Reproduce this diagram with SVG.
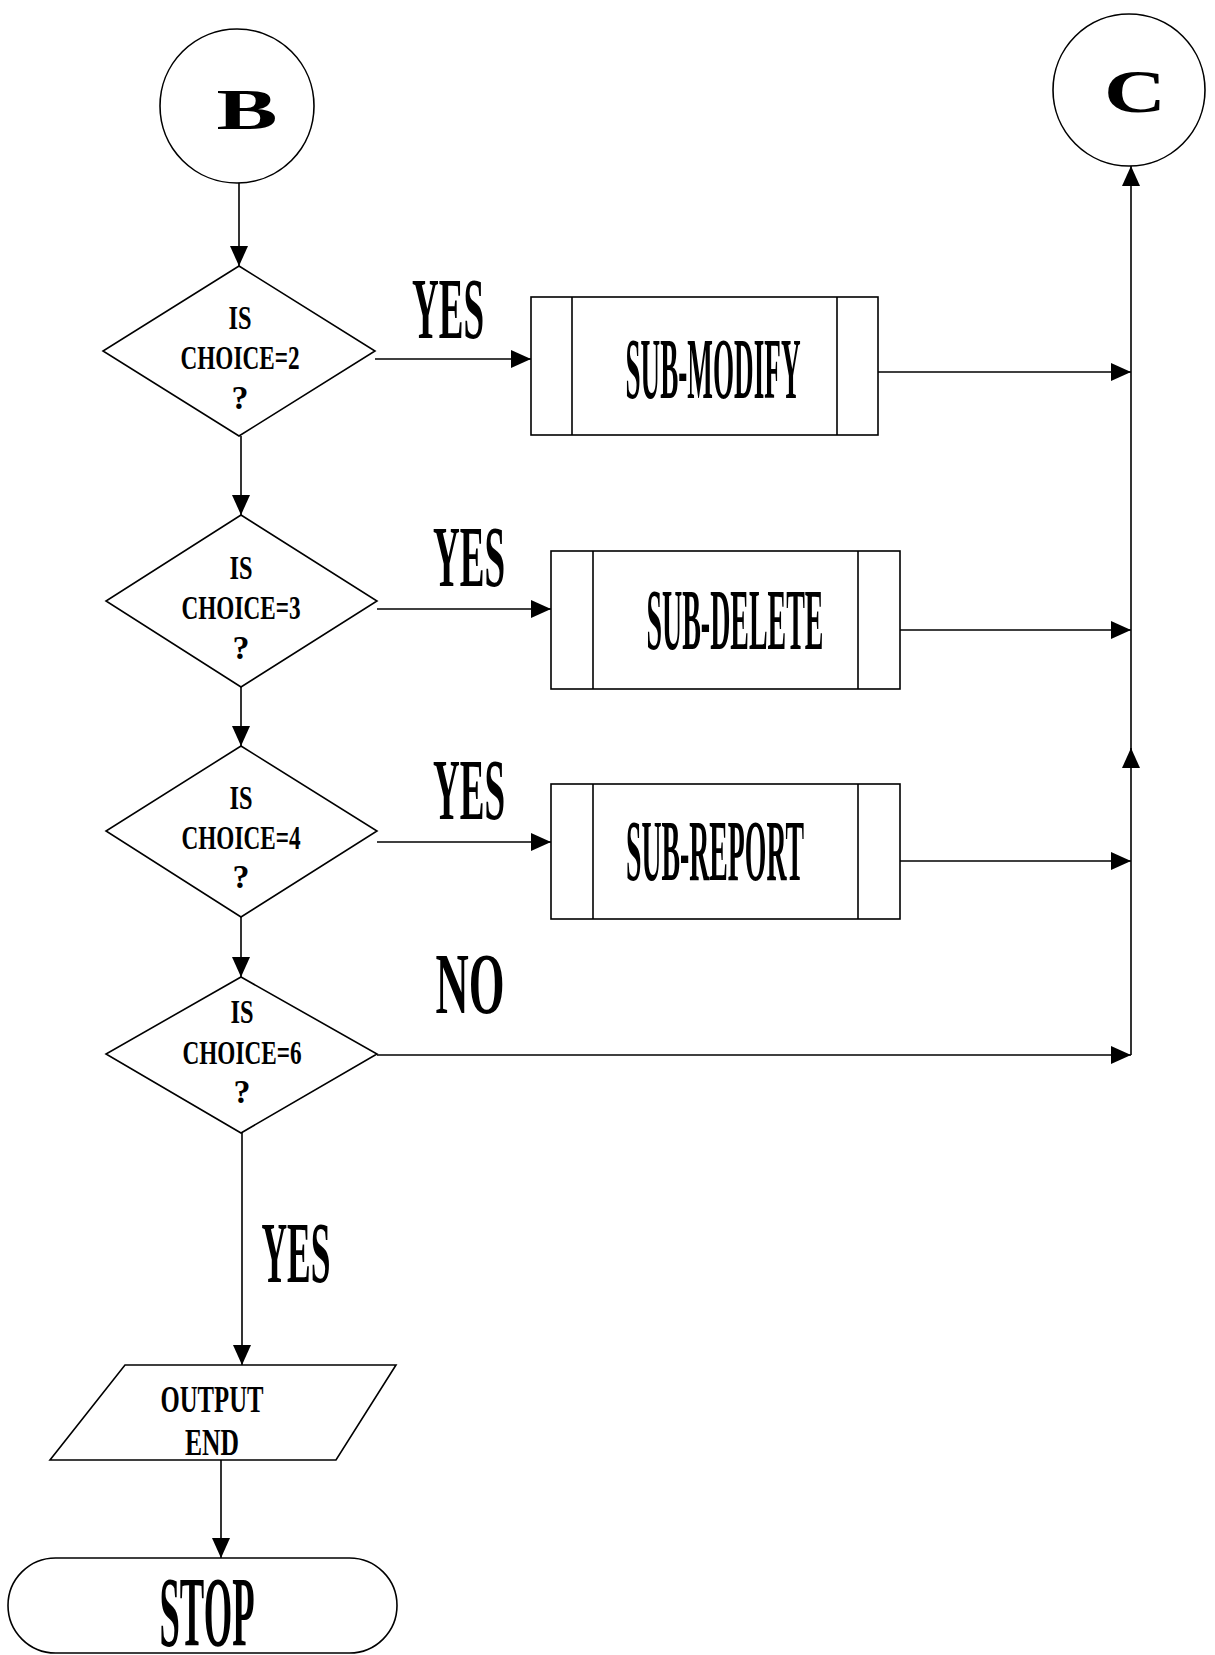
<svg xmlns="http://www.w3.org/2000/svg" width="1215" height="1655" viewBox="0 0 1215 1655">
<defs>
<marker id="ah" markerUnits="userSpaceOnUse" markerWidth="20" markerHeight="18" refX="20" refY="9" orient="auto">
<path d="M0,0 L20,9 L0,18 z" fill="#000"/>
</marker>
<style>
.s{fill:#fff;stroke:#000;stroke-width:1.6}
.c{fill:none;stroke:#000;stroke-width:1.6}
.t{font-family:"Liberation Serif","Times New Roman",serif;font-weight:bold;fill:#000;text-anchor:middle}
.d{font-size:34px}
.big{font-size:86px}
</style>
</defs>
<rect width="1215" height="1655" fill="#fff"/>
<g id="connectors">
<line class="c" x1="239" y1="183" x2="239" y2="266" marker-end="url(#ah)"/>
<line class="c" x1="375" y1="359" x2="531" y2="359" marker-end="url(#ah)"/>
<line class="c" x1="878" y1="372" x2="1131" y2="372" marker-end="url(#ah)"/>
<line class="c" x1="241" y1="436" x2="241" y2="515" marker-end="url(#ah)"/>
<line class="c" x1="377" y1="609" x2="551" y2="609" marker-end="url(#ah)"/>
<line class="c" x1="900" y1="630" x2="1131" y2="630" marker-end="url(#ah)"/>
<line class="c" x1="241" y1="687" x2="241" y2="746" marker-end="url(#ah)"/>
<line class="c" x1="377" y1="842" x2="551" y2="842" marker-end="url(#ah)"/>
<line class="c" x1="900" y1="861" x2="1131" y2="861" marker-end="url(#ah)"/>
<line class="c" x1="241" y1="917" x2="241" y2="977" marker-end="url(#ah)"/>
<line class="c" x1="377" y1="1055" x2="1131" y2="1055" marker-end="url(#ah)"/>
<line class="c" x1="1131" y1="1055" x2="1131" y2="748" marker-end="url(#ah)"/>
<line class="c" x1="1131" y1="750" x2="1131" y2="166" marker-end="url(#ah)"/>
<line class="c" x1="242" y1="1133" x2="242" y2="1365" marker-end="url(#ah)"/>
<line class="c" x1="221" y1="1460" x2="221" y2="1558" marker-end="url(#ah)"/>
<text class="t big" x="448" y="338" textLength="72" lengthAdjust="spacingAndGlyphs">YES</text>
<text class="t big" x="469" y="586" textLength="72" lengthAdjust="spacingAndGlyphs">YES</text>
<text class="t big" x="469" y="819" textLength="72" lengthAdjust="spacingAndGlyphs">YES</text>
<text class="t big" x="470" y="1013" textLength="69" lengthAdjust="spacingAndGlyphs">NO</text>
<text class="t big" x="296" y="1282" textLength="69" lengthAdjust="spacingAndGlyphs">YES</text>
</g>
<g id="nodeB">
<circle class="s" cx="237" cy="106" r="77"/>
<text class="t" x="247" y="129" font-size="58" textLength="61" lengthAdjust="spacingAndGlyphs">B</text>
</g>
<g id="nodeC">
<circle class="s" cx="1129" cy="90" r="76"/>
<text class="t" x="1135" y="112" font-size="62" textLength="62" lengthAdjust="spacingAndGlyphs">C</text>
</g>
<g id="dec2">
<polygon class="s" points="239,266 375,351 239,436 103,351"/>
<text class="t d" x="240" y="329" textLength="23" lengthAdjust="spacingAndGlyphs">IS</text>
<text class="t d" x="240" y="369" textLength="119" lengthAdjust="spacingAndGlyphs">CHOICE=2</text>
<text class="t d" x="240" y="409">?</text>
</g>
<g id="modify">
<rect class="s" x="531" y="297" width="347" height="138"/>
<line class="c" x1="572" y1="297" x2="572" y2="435"/>
<line class="c" x1="837" y1="297" x2="837" y2="435"/>
<text class="t big" x="713" y="398" textLength="175" lengthAdjust="spacingAndGlyphs">SUB-MODIFY</text>
</g>
<g id="dec3">
<polygon class="s" points="241,515 377,601 241,687 106,601"/>
<text class="t d" x="241" y="579" textLength="23" lengthAdjust="spacingAndGlyphs">IS</text>
<text class="t d" x="241" y="619" textLength="119" lengthAdjust="spacingAndGlyphs">CHOICE=3</text>
<text class="t d" x="241" y="659">?</text>
</g>
<g id="delete">
<rect class="s" x="551" y="551" width="349" height="138"/>
<line class="c" x1="593" y1="551" x2="593" y2="689"/>
<line class="c" x1="858" y1="551" x2="858" y2="689"/>
<text class="t big" x="735" y="649" textLength="177" lengthAdjust="spacingAndGlyphs">SUB-DELETE</text>
</g>
<g id="dec4">
<polygon class="s" points="241,746 377,831 241,917 106,831"/>
<text class="t d" x="241" y="809" textLength="23" lengthAdjust="spacingAndGlyphs">IS</text>
<text class="t d" x="241" y="849" textLength="119" lengthAdjust="spacingAndGlyphs">CHOICE=4</text>
<text class="t d" x="241" y="888">?</text>
</g>
<g id="report">
<rect class="s" x="551" y="784" width="349" height="135"/>
<line class="c" x1="593" y1="784" x2="593" y2="919"/>
<line class="c" x1="858" y1="784" x2="858" y2="919"/>
<text class="t big" x="715" y="880" textLength="178" lengthAdjust="spacingAndGlyphs">SUB-REPORT</text>
</g>
<g id="dec6">
<polygon class="s" points="241,977 377,1054 241,1133 106,1054"/>
<text class="t d" x="242" y="1023" textLength="23" lengthAdjust="spacingAndGlyphs">IS</text>
<text class="t d" x="242" y="1064" textLength="119" lengthAdjust="spacingAndGlyphs">CHOICE=6</text>
<text class="t d" x="242" y="1103">?</text>
</g>
<g id="output">
<polygon class="s" points="125,1365 396,1365 336,1460 50,1460"/>
<text class="t" x="212" y="1412" font-size="38" textLength="103" lengthAdjust="spacingAndGlyphs">OUTPUT</text>
<text class="t" x="212" y="1455" font-size="38" textLength="54" lengthAdjust="spacingAndGlyphs">END</text>
</g>
<g id="stop">
<rect class="s" x="8" y="1558" width="389" height="95" rx="47.5" ry="47.5"/>
<text class="t" x="207" y="1645" font-size="100" textLength="95" lengthAdjust="spacingAndGlyphs">STOP</text>
</g>
</svg>
